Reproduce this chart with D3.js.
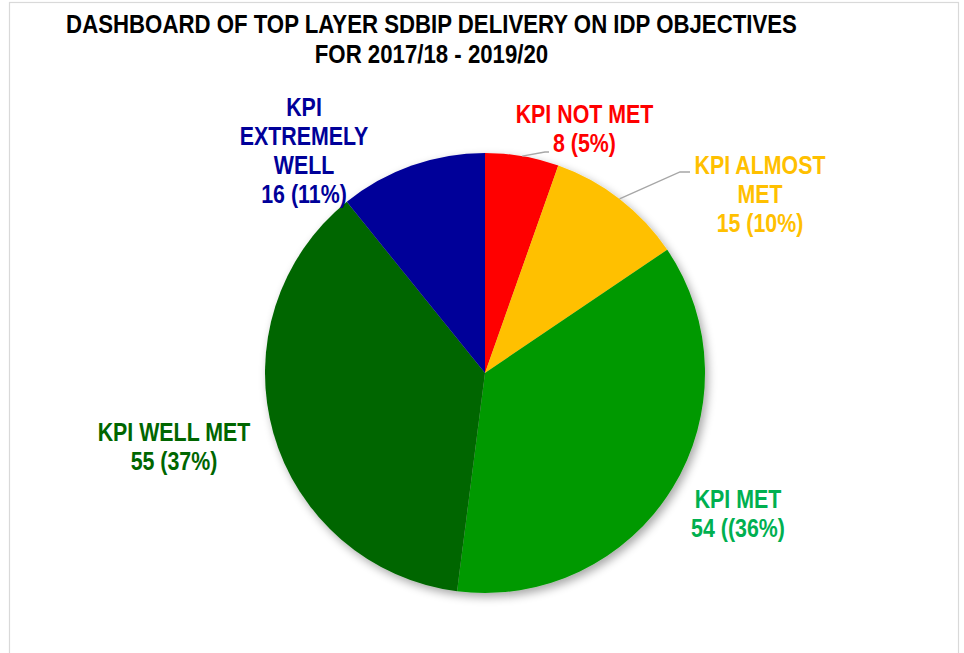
<!DOCTYPE html>
<html>
<head>
<meta charset="utf-8">
<script src="https://cdn.jsdelivr.net/npm/d3@7"></script>
<style>
  html, body { margin: 0; padding: 0; background: #fff; }
  svg text { font-family: "Liberation Sans", Arial, sans-serif; font-weight: bold; }
</style>
</head>
<body>
<svg id="chart" width="964" height="653"></svg>
<script>
const categories = ["KPI NOT MET", "KPI ALMOST MET", "KPI MET", "KPI WELL MET", "KPI EXTREMELY WELL"];
const values = [8, 15, 54, 55, 16];
const valueLabels = ["8 (5%)", "15 (10%)", "54 ((36%)", "55 (37%)", "16 (11%)"];
const labelLines = [
  ["KPI NOT MET"],
  ["KPI ALMOST", "MET"],
  ["KPI MET"],
  ["KPI WELL MET"],
  ["KPI", "EXTREMELY", "WELL"]
];
const sliceColors = ["#FF0000", "#FFC000", "#009900", "#006600", "#000099"];
const textColors = ["#FF0000", "#FFC000", "#00B050", "#006600", "#000099"];
const titleLines = ["DASHBOARD OF TOP LAYER SDBIP DELIVERY ON IDP OBJECTIVES", "FOR 2017/18 - 2019/20"];

const svg = d3.select("#chart");
const cx = 485, cy = 373, r = 220;
const narrow = 0.855;

// frame
svg.append("rect").attr("x", 9.5).attr("y", 2.5).attr("width", 949).attr("height", 660)
  .attr("fill", "#fff").attr("stroke", "#D9D9D9").attr("stroke-width", 1.2);

// shadow filter
const defs = svg.append("defs");
const f = defs.append("filter").attr("id", "shadow").attr("x", "-20%").attr("y", "-20%").attr("width", "140%").attr("height", "140%");
f.append("feGaussianBlur").attr("in", "SourceAlpha").attr("stdDeviation", 5).attr("result", "b");
f.append("feOffset").attr("in", "b").attr("dx", 3).attr("dy", 4).attr("result", "o");
f.append("feComponentTransfer").attr("in", "o").attr("result", "o2")
  .append("feFuncA").attr("type", "linear").attr("slope", 0.35);
const m = f.append("feMerge");
m.append("feMergeNode").attr("in", "o2");
m.append("feMergeNode").attr("in", "SourceGraphic");

// helper for condensed text
function narrowText(x, y, txt, size, color) {
  svg.append("text")
    .attr("transform", `translate(${x},${y}) scale(${narrow},1)`)
    .attr("text-anchor", "middle").attr("font-size", size).attr("fill", color)
    .text(txt);
}

// title
titleLines.forEach((t, i) => narrowText(431.5, 33 + i * 30, t, 26, "#000"));

const pie = d3.pie().sort(null).value(d => d)(values);
const arc = d3.arc().innerRadius(0).outerRadius(r);

const g = svg.append("g").attr("transform", `translate(${cx},${cy})`);
g.append("g").attr("filter", "url(#shadow)").selectAll("path").data(pie).join("path")
  .attr("d", arc).attr("fill", (d, i) => sliceColors[i]);

// leader lines for first two slices (from slice mid-angle on the rim)
const outerPt = (a, rr) => [cx + rr * Math.sin(a), cy - rr * Math.cos(a)];
const leaders = [
  { i: 0, pts: [[545, 152], [549, 152]] },
  { i: 1, pts: [[680, 172], [690, 172]] }
];
leaders.forEach(L => {
  const p = pie[L.i];
  const a = (p.startAngle + p.endAngle) / 2;
  const start = outerPt(a, r);
  svg.append("polyline")
    .attr("points", [start, ...L.pts].map(q => q.join(",")).join(" "))
    .attr("fill", "none").attr("stroke", "#A6A6A6").attr("stroke-width", 1.3);
});

// labels
const labelPos = [
  { x: 584.5, y: 123 },
  { x: 760, y: 174 },
  { x: 738, y: 508 },
  { x: 174, y: 441 },
  { x: 304, y: 116 }
];
const lh = 29;
categories.forEach((c, i) => {
  const lines = labelLines[i].concat([valueLabels[i]]);
  lines.forEach((ln, j) => narrowText(labelPos[i].x, labelPos[i].y + j * lh, ln, 25, textColors[i]));
});
</script>
</body>
</html>
